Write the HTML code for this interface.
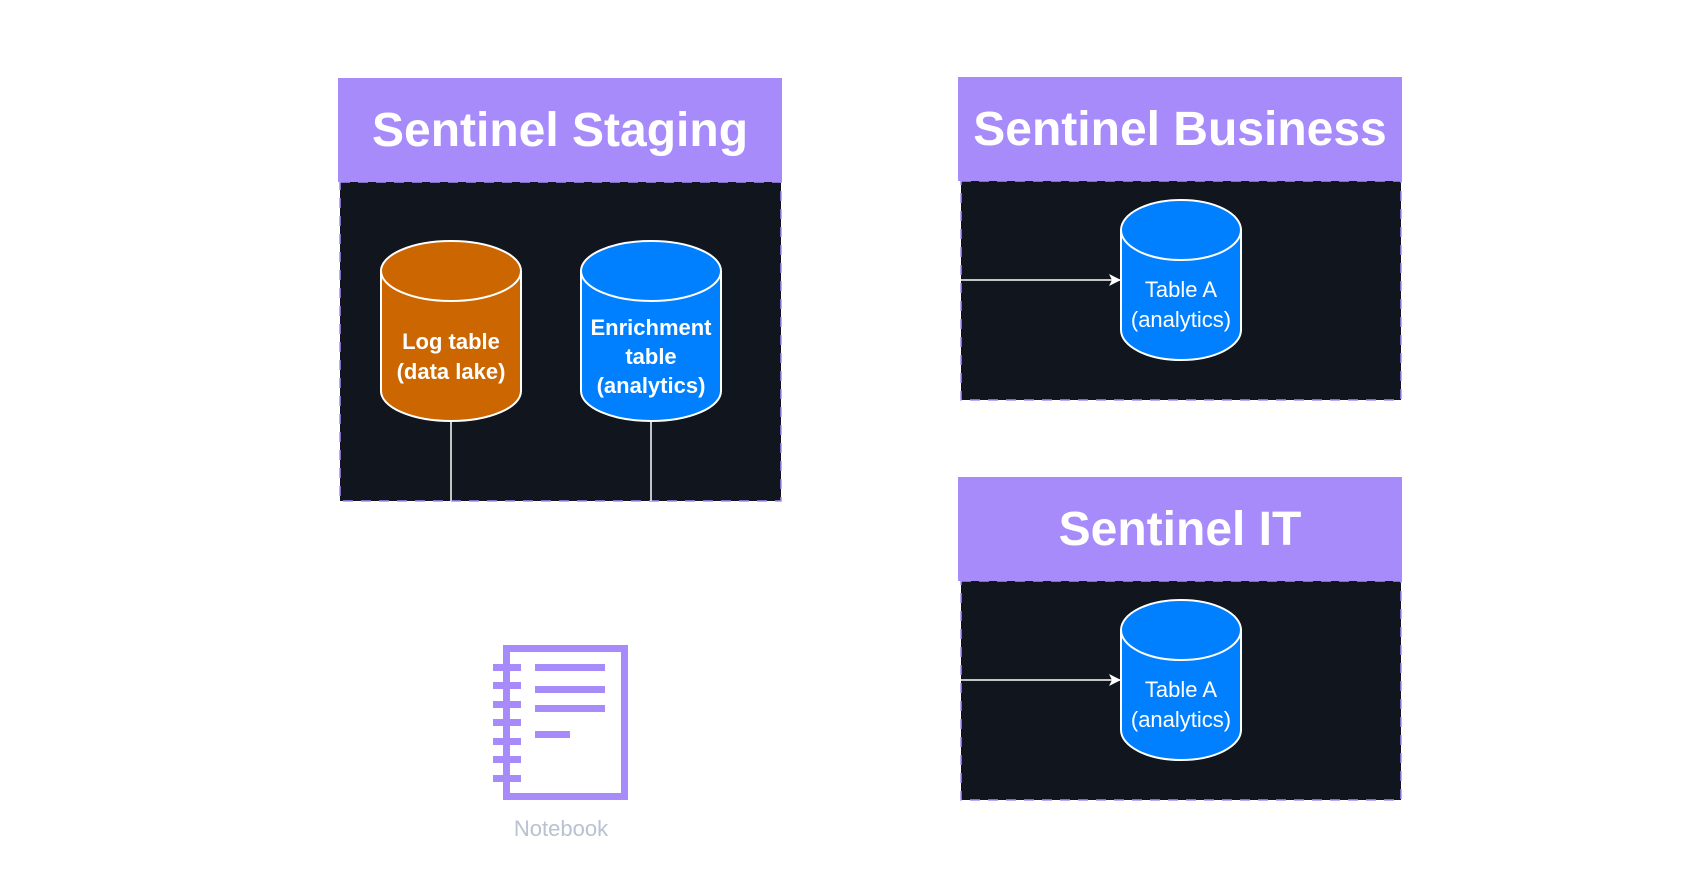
<!DOCTYPE html>
<html><head><meta charset="utf-8"><style>
html,body{margin:0;padding:0;background:#fff;width:1700px;height:880px;overflow:hidden}
svg{display:block}
text{font-family:"Liberation Sans",Arial,sans-serif}
</style></head><body>
<svg width="1700" height="880" viewBox="0 0 1700 880" xmlns="http://www.w3.org/2000/svg">
<defs>
<marker id="ar" markerWidth="12" markerHeight="12" refX="11" refY="6" orient="auto" markerUnits="userSpaceOnUse">
<path d="M0,0 L12,6 L0,12 L3,6 Z" fill="#fff"/>
</marker>
</defs>
<!-- Staging -->
<rect x="340" y="182" width="441" height="319" fill="#11151e" stroke="#a78bfa" stroke-width="1.5" stroke-dasharray="10 8"/>
<rect x="338" y="78" width="444" height="104" fill="#a78bfa"/>
<text x="560" y="146" text-anchor="middle" font-size="48" font-weight="bold" fill="#fff">Sentinel Staging</text>
<line x1="451" y1="421" x2="451" y2="501" stroke="#fff" stroke-width="1.5"/>
<line x1="651" y1="421" x2="651" y2="501" stroke="#fff" stroke-width="1.5"/>
<path d="M381,271 A70,30 0 0 1 521,271 L521,391 A70,30 0 0 1 381,391 Z" fill="#cc6600" stroke="#fff" stroke-width="2"/>
<path d="M381,271 A70,30 0 0 0 521,271" fill="none" stroke="#fff" stroke-width="2"/>
<text x="451" y="349" text-anchor="middle" font-size="22" font-weight="bold" fill="#fff">Log table</text>
<text x="451" y="379" text-anchor="middle" font-size="22" font-weight="bold" fill="#fff">(data lake)</text>
<path d="M581,271 A70,30 0 0 1 721,271 L721,391 A70,30 0 0 1 581,391 Z" fill="#0080ff" stroke="#fff" stroke-width="2"/>
<path d="M581,271 A70,30 0 0 0 721,271" fill="none" stroke="#fff" stroke-width="2"/>
<text x="651" y="335" text-anchor="middle" font-size="22" font-weight="bold" fill="#fff">Enrichment</text>
<text x="651" y="364" text-anchor="middle" font-size="22" font-weight="bold" fill="#fff">table</text>
<text x="651" y="393" text-anchor="middle" font-size="22" font-weight="bold" fill="#fff">(analytics)</text>
<!-- Business -->
<rect x="961" y="181" width="440" height="219" fill="#11151e" stroke="#a78bfa" stroke-width="1.5" stroke-dasharray="10 8"/>
<rect x="958" y="77" width="444" height="104" fill="#a78bfa"/>
<text x="1180" y="145" text-anchor="middle" font-size="48" font-weight="bold" fill="#fff">Sentinel Business</text>
<line x1="961" y1="280" x2="1120" y2="280" stroke="#fff" stroke-width="1.5" marker-end="url(#ar)"/>
<path d="M1121,230 A60,30 0 0 1 1241,230 L1241,330 A60,30 0 0 1 1121,330 Z" fill="#0080ff" stroke="#fff" stroke-width="2"/>
<path d="M1121,230 A60,30 0 0 0 1241,230" fill="none" stroke="#fff" stroke-width="2"/>
<text x="1181" y="297" text-anchor="middle" font-size="22" fill="#fff">Table A</text>
<text x="1181" y="327" text-anchor="middle" font-size="22" fill="#fff">(analytics)</text>
<!-- IT -->
<rect x="961" y="581" width="440" height="219" fill="#11151e" stroke="#a78bfa" stroke-width="1.5" stroke-dasharray="10 8"/>
<rect x="958" y="477" width="444" height="104" fill="#a78bfa"/>
<text x="1180" y="545" text-anchor="middle" font-size="48" font-weight="bold" fill="#fff">Sentinel IT</text>
<line x1="961" y1="680" x2="1120" y2="680" stroke="#fff" stroke-width="1.5" marker-end="url(#ar)"/>
<path d="M1121,630 A60,30 0 0 1 1241,630 L1241,730 A60,30 0 0 1 1121,730 Z" fill="#0080ff" stroke="#fff" stroke-width="2"/>
<path d="M1121,630 A60,30 0 0 0 1241,630" fill="none" stroke="#fff" stroke-width="2"/>
<text x="1181" y="697" text-anchor="middle" font-size="22" fill="#fff">Table A</text>
<text x="1181" y="727" text-anchor="middle" font-size="22" fill="#fff">(analytics)</text>
<!-- Notebook -->
<rect x="506.5" y="648.5" width="118" height="148" fill="none" stroke="#a78bfa" stroke-width="7"/>
<g fill="#a78bfa">
<rect x="493" y="664" width="28" height="7"/><rect x="493" y="682" width="28" height="7"/><rect x="493" y="701" width="28" height="7"/><rect x="493" y="719" width="28" height="7"/><rect x="493" y="738" width="28" height="7"/><rect x="493" y="756" width="28" height="7"/><rect x="493" y="775" width="28" height="7"/>
<rect x="535" y="664" width="70" height="7"/><rect x="535" y="686" width="70" height="7"/><rect x="535" y="705" width="70" height="7"/><rect x="535" y="731" width="35" height="7"/>
</g>
<text x="561" y="836" text-anchor="middle" font-size="22" fill="#b8c2d0">Notebook</text>
</svg>
</body></html>
